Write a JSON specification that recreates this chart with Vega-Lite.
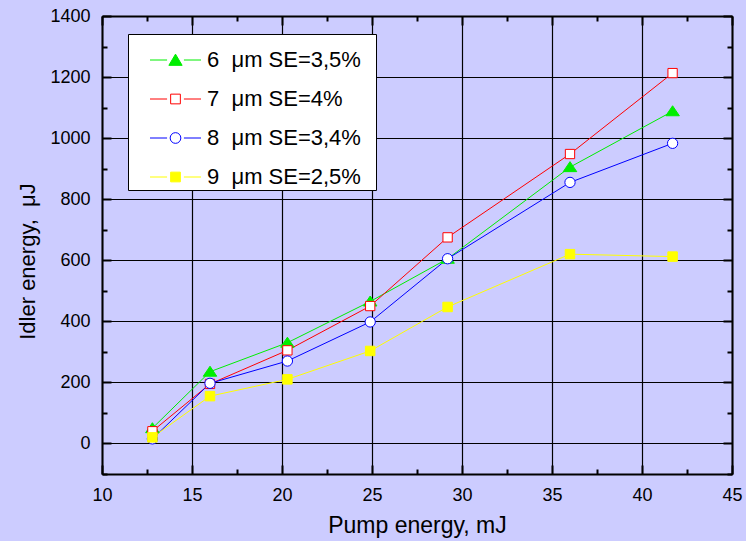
{
  "$schema": "https://vega.github.io/schema/vega-lite/v6.json",
  "width": 630,
  "height": 458,
  "autosize": {"type": "none"},
  "padding": {"left": 102, "top": 16, "right": 14, "bottom": 67},
  "background": "#ccccff",
  "config": {
    "view": {"stroke": null},
    "font": "Liberation Sans",
    "legend": {
      "orient": "none",
      "legendX": 26,
      "legendY": 18,
      "padding": 0,
      "fillColor": "white",
      "strokeColor": "black",
      "symbolSize": 2601,
      "symbolStrokeWidth": 1,
      "symbolOpacity": 1,
      "symbolOffset": 21.5,
      "labelOffset": 5.5,
      "labelFont": "Liberation Sans",
      "labelFontSize": 22,
      "labelColor": "black",
      "labelLimit": 0,
      "rowPadding": -11.7
    }
  },
  "data": {
    "values": [
      {"s": "6\u00a0 μm SE=3,5%", "x": 12.8, "y": 50},
      {"s": "6\u00a0 μm SE=3,5%", "x": 16.0, "y": 235},
      {"s": "6\u00a0 μm SE=3,5%", "x": 20.3, "y": 330},
      {"s": "6\u00a0 μm SE=3,5%", "x": 24.9, "y": 465},
      {"s": "6\u00a0 μm SE=3,5%", "x": 29.2, "y": 605},
      {"s": "6\u00a0 μm SE=3,5%", "x": 36.0, "y": 905},
      {"s": "6\u00a0 μm SE=3,5%", "x": 41.7, "y": 1088},
      {"s": "7\u00a0 μm SE=4%", "x": 12.8, "y": 40},
      {"s": "7\u00a0 μm SE=4%", "x": 16.0, "y": 195},
      {"s": "7\u00a0 μm SE=4%", "x": 20.3, "y": 305},
      {"s": "7\u00a0 μm SE=4%", "x": 24.9, "y": 450},
      {"s": "7\u00a0 μm SE=4%", "x": 29.2, "y": 675},
      {"s": "7\u00a0 μm SE=4%", "x": 36.0, "y": 948},
      {"s": "7\u00a0 μm SE=4%", "x": 41.7, "y": 1213},
      {"s": "8\u00a0 μm SE=3,4%", "x": 12.8, "y": 15},
      {"s": "8\u00a0 μm SE=3,4%", "x": 16.0, "y": 197},
      {"s": "8\u00a0 μm SE=3,4%", "x": 20.3, "y": 270},
      {"s": "8\u00a0 μm SE=3,4%", "x": 24.9, "y": 398},
      {"s": "8\u00a0 μm SE=3,4%", "x": 29.2, "y": 605},
      {"s": "8\u00a0 μm SE=3,4%", "x": 36.0, "y": 855},
      {"s": "8\u00a0 μm SE=3,4%", "x": 41.7, "y": 983},
      {"s": "9\u00a0 μm SE=2,5%", "x": 12.8, "y": 20},
      {"s": "9\u00a0 μm SE=2,5%", "x": 16.0, "y": 155},
      {"s": "9\u00a0 μm SE=2,5%", "x": 20.3, "y": 210},
      {"s": "9\u00a0 μm SE=2,5%", "x": 24.9, "y": 303},
      {"s": "9\u00a0 μm SE=2,5%", "x": 29.2, "y": 447},
      {"s": "9\u00a0 μm SE=2,5%", "x": 36.0, "y": 620},
      {"s": "9\u00a0 μm SE=2,5%", "x": 41.7, "y": 612}
    ]
  },
  "resolve": {"axis": {"x": "independent", "y": "independent"}},
  "layer": [
    {
      "mark": {"type": "line", "strokeWidth": 1},
      "encoding": {
        "x": {
          "field": "x", "type": "quantitative",
          "scale": {"domain": [10, 45], "nice": false, "zero": false},
          "axis": {
            "orient": "bottom",
            "values": [10, 12.5, 15, 17.5, 20, 22.5, 25, 27.5, 30, 32.5, 35, 37.5, 40, 42.5, 45],
            "domainColor": "black", "domainWidth": 2,
            "tickColor": "black", "tickWidth": 2,
            "tickSize": {"condition": {"test": "datum.value % 5 === 0", "value": -9}, "value": -5},
            "format": "d",
            "labelExpr": "datum.value % 5 === 0 ? datum.label : ''",
            "labelFont": "Liberation Sans", "labelFontSize": 18, "labelColor": "black",
            "labelPadding": 21, "labelFlush": false, "labelOverlap": false,
            "grid": true, "gridColor": "black", "gridWidth": 1.2,
            "gridOpacity": {"condition": {"test": "datum.value % 5 === 0", "value": 1}, "value": 0},
            "title": "Pump energy, mJ",
            "titleFont": "Liberation Sans", "titleFontSize": 23, "titleFontWeight": "normal", "titleColor": "black",
            "titlePadding": 6
          }
        },
        "y": {
          "field": "y", "type": "quantitative",
          "scale": {"domain": [-100, 1400], "nice": false, "zero": false},
          "axis": {
            "orient": "left",
            "values": [-100, 0, 100, 200, 300, 400, 500, 600, 700, 800, 900, 1000, 1100, 1200, 1300, 1400],
            "domainColor": "black", "domainWidth": 2,
            "tickColor": "black", "tickWidth": 2,
            "tickSize": {"condition": {"test": "datum.value % 200 === 0", "value": -9}, "value": -5},
            "format": "d",
            "labelExpr": "datum.value % 200 === 0 ? datum.label : ''",
            "labelFont": "Liberation Sans", "labelFontSize": 18, "labelColor": "black",
            "labelPadding": 21, "labelFlush": false, "labelOverlap": false,
            "grid": true, "gridColor": "black", "gridWidth": 1.2,
            "gridOpacity": {"condition": {"test": "datum.value % 200 === 0", "value": 1}, "value": 0},
            "title": "Idler energy,\u00a0 μJ",
            "titleFont": "Liberation Sans", "titleFontSize": 22, "titleFontWeight": "normal", "titleColor": "black",
            "titlePadding": 10,
            "titleY": 245
          }
        },
        "stroke": {
          "field": "s", "type": "nominal",
          "scale": {"domain": ["6\u00a0 μm SE=3,5%", "7\u00a0 μm SE=4%", "8\u00a0 μm SE=3,4%", "9\u00a0 μm SE=2,5%"], "range": ["#00ee00", "#ff0000", "#0000ff", "#ffff00"]},
          "legend": {
            "title": null,
            "encoding": {
              "symbols": {
                "shape": {"value": {"signal": "datum.index == 0 ? 'M7.78,0M0,-1.12M0,0.43M-1,0H-0.33M0.33,0H1M0,-0.23L0.26,0.21L-0.26,0.21Z' : datum.index == 1 ? 'M7.78,0M0,-1.12M0,0.43M-1,0H-0.33M0.33,0H1M-0.19,-0.19H0.19V0.19H-0.19Z' : datum.index == 2 ? 'M7.78,0M0,-1.12M0,0.43M-1,0H-0.33M0.33,0H1M0.21,0A0.21,0.21,0,1,1,-0.21,0A0.21,0.21,0,1,1,0.21,0Z' : 'M7.78,0M0,-1.12M0,0.43M-1,0H-0.33M0.33,0H1M-0.19,-0.19H0.19V0.19H-0.19Z'"}},
                "size": {"value": 2601},
                "strokeWidth": {"value": 1},
                "opacity": {"value": 1}
              }
            }
          }
        }
      }
    },
    {
      "mark": {"type": "point", "filled": true, "opacity": 1, "strokeWidth": 1, "size": 100},
      "encoding": {
        "x": {
          "field": "x", "type": "quantitative",
          "axis": {
            "orient": "top",
            "values": [10, 12.5, 15, 17.5, 20, 22.5, 25, 27.5, 30, 32.5, 35, 37.5, 40, 42.5, 45],
            "domainColor": "black", "domainWidth": 2,
            "tickColor": "black", "tickWidth": 2,
            "tickSize": {"condition": {"test": "datum.value % 5 === 0", "value": -9}, "value": -5},
            "labels": false, "grid": false, "title": null
          }
        },
        "y": {
          "field": "y", "type": "quantitative",
          "axis": {
            "orient": "right",
            "values": [-100, 0, 100, 200, 300, 400, 500, 600, 700, 800, 900, 1000, 1100, 1200, 1300, 1400],
            "domainColor": "black", "domainWidth": 2,
            "tickColor": "black", "tickWidth": 2,
            "tickSize": {"condition": {"test": "datum.value % 200 === 0", "value": -9}, "value": -5},
            "labels": false, "grid": false, "title": null
          }
        },
        "shape": {
          "field": "s", "type": "nominal",
          "scale": {"domain": ["9\u00a0 μm SE=2,5%", "8\u00a0 μm SE=3,4%", "7\u00a0 μm SE=4%", "6\u00a0 μm SE=3,5%"], "range": ["M-0.95,-0.95H0.95V0.95H-0.95Z", "M1.03,0A1.03,1.03,0,1,1,-1.03,0A1.03,1.03,0,1,1,1.03,0Z", "M-0.93,-0.93H0.93V0.93H-0.93Z", "M0,-1.1L1.35,0.9L-1.35,0.9Z"]},
          "legend": null
        },
        "fill": {
          "field": "s", "type": "nominal",
          "scale": {"domain": ["6\u00a0 μm SE=3,5%", "7\u00a0 μm SE=4%", "8\u00a0 μm SE=3,4%", "9\u00a0 μm SE=2,5%"], "range": ["#00ee00", "#ffffff", "#ffffff", "#ffff00"]},
          "legend": {
            "title": null,
            "encoding": {
              "symbols": {
                "shape": {"value": {"signal": "datum.index == 0 ? 'M7.78,0M0,-1.12M0,0.43M-1,0H-0.33M0.33,0H1M0,-0.23L0.26,0.21L-0.26,0.21Z' : datum.index == 1 ? 'M7.78,0M0,-1.12M0,0.43M-1,0H-0.33M0.33,0H1M-0.19,-0.19H0.19V0.19H-0.19Z' : datum.index == 2 ? 'M7.78,0M0,-1.12M0,0.43M-1,0H-0.33M0.33,0H1M0.21,0A0.21,0.21,0,1,1,-0.21,0A0.21,0.21,0,1,1,0.21,0Z' : 'M7.78,0M0,-1.12M0,0.43M-1,0H-0.33M0.33,0H1M-0.19,-0.19H0.19V0.19H-0.19Z'"}},
                "size": {"value": 2601},
                "strokeWidth": {"value": 1},
                "opacity": {"value": 1}
              }
            }
          }
        },
        "stroke": {
          "field": "s", "type": "nominal",
          "legend": {
            "title": null,
            "encoding": {
              "symbols": {
                "shape": {"value": {"signal": "datum.index == 0 ? 'M7.78,0M0,-1.12M0,0.43M-1,0H-0.33M0.33,0H1M0,-0.23L0.26,0.21L-0.26,0.21Z' : datum.index == 1 ? 'M7.78,0M0,-1.12M0,0.43M-1,0H-0.33M0.33,0H1M-0.19,-0.19H0.19V0.19H-0.19Z' : datum.index == 2 ? 'M7.78,0M0,-1.12M0,0.43M-1,0H-0.33M0.33,0H1M0.21,0A0.21,0.21,0,1,1,-0.21,0A0.21,0.21,0,1,1,0.21,0Z' : 'M7.78,0M0,-1.12M0,0.43M-1,0H-0.33M0.33,0H1M-0.19,-0.19H0.19V0.19H-0.19Z'"}},
                "size": {"value": 2601},
                "strokeWidth": {"value": 1},
                "opacity": {"value": 1}
              }
            }
          }
        }
      }
    }
  ]
}
